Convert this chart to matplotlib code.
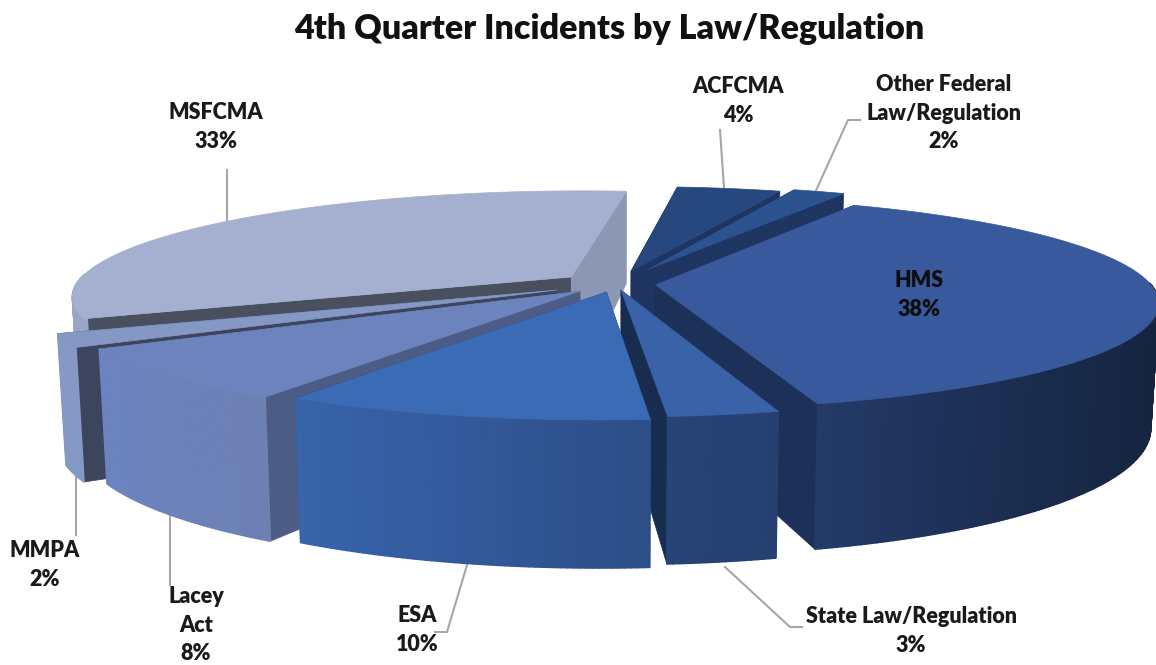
import numpy as np
import matplotlib
matplotlib.use("Agg")
import matplotlib.pyplot as plt
from matplotlib.collections import PolyCollection
from matplotlib.colors import to_rgb
from matplotlib.patches import Polygon

plt.rcParams['font.family'] = ['Lato', 'DejaVu Sans']

# data, clockwise from the top
names = ["ACFCMA", "Other Federal\nLaw/Regulation", "HMS", "State Law/Regulation",
         "ESA", "Lacey\nAct", "MMPA", "MSFCMA"]
shares = [4, 2, 38, 3, 10, 8, 2, 33]

# styles per slice
explode = [0.13, 0.16, 0.08, 0.06, 0.08, 0.10, 0.13, 0.115]
top_cols = ["#27477f", "#2c5290", "#38599c", "#3a62a8", "#3c6bb5", "#6c83bd", "#8497c5", "#a5b0d0"]
wall_l = ["#27477f", "#2c5290", "#233b68", "#274476", "#3864ab", "#6b83bf", "#8598c6", "#9aa6c6"]
wall_r = ["#27477f", "#2c5290", "#15243f", "#254070", "#2d4e87", "#6c80b4", "#8598c6", "#9aa6c6"]
cut_start = ["#1f3561", "#1f3561", "#16274a", "#1c3158", "#1c3158", "#4c5c85", "#3d455c", "#484f5e"]
cut_end = ["#1f3561", "#1f3561", "#1c3158", "#182c4f", "#1c3158", "#4c5c85", "#3d455c", "#8d97b3"]
draw_order = [0, 1, 7, 2, 6, 5, 3, 4]

# label placement: text x, y, then leader line points
label_pos = [(738, 101), (944, 113), (919, 295), (911, 631), (417, 630), (196, 625), (45, 565), (216, 127)]
leaders = [[(720, 130), (724, 188)],
           [(860, 120), (848, 120), (814, 195)],
           None,
           [(725, 567), (790, 627), (802, 627)],
           [(467, 565), (447, 632), (435, 632)],
           [(170, 508), (170, 585)],
           [(76, 465), (76, 535)],
           [(227, 170), (227, 222)]]

START = 6.0
CX, CY = 616, 284
R, K, PERSP = 495, 103, 0.17
SKEW = 5


def project(px, py):
    s = 1 / (1 + PERSP * py)
    return CX + R * px * s + SKEW * py, CY - K * py * s


def drop(px, py):
    # point on the bottom face under a point of the top face
    x, y = project(px, py)
    return CX + (x - CX) * 0.985, y + 120 - 26 * py


def mix(c1, c2, t):
    return tuple((1 - t) * np.array(to_rgb(c1)) + t * np.array(to_rgb(c2)))


fig = plt.figure(figsize=(11.56, 6.65), dpi=100)
ax = fig.add_axes([0, 0, 1, 1])
ax.set_xlim(0, 1156)
ax.set_ylim(665, 0)
ax.axis("off")

edges = START + np.concatenate([[0], np.cumsum(shares)]) * 3.6

for pts in leaders:
    if pts:
        ax.plot(*zip(*pts), color="#a6a6a6", lw=1.5, zorder=1)

z = 2
for i in draw_order:
    a0, a1 = np.radians(edges[i]), np.radians(edges[i + 1])
    mid = (a0 + a1) / 2
    ox, oy = explode[i] * np.sin(mid), explode[i] * np.cos(mid)
    th = np.linspace(a0, a1, max(6, int(shares[i] * 6)))
    wx, wy = ox + np.sin(th), oy + np.cos(th)

    # cut faces
    for a, col in ((a0, cut_start[i]), (a1, cut_end[i])):
        qx, qy = ox + np.sin(a), oy + np.cos(a)
        quad = [project(ox, oy), project(qx, qy), drop(qx, qy), drop(ox, oy)]
        ax.add_patch(Polygon(quad, fc=col, ec=col, lw=0.5, zorder=z))
        z += 1

    # outer wall, front part only
    tops = np.array([project(a, b) for a, b in zip(wx, wy)])
    bots = np.array([drop(a, b) for a, b in zip(wx, wy)])
    xmin, xmax = tops[:, 0].min(), tops[:, 0].max()
    polys, cols = [], []
    for j in range(len(th) - 1):
        if np.cos((th[j] + th[j + 1]) / 2) > 0.02:
            continue
        polys.append([tops[j], tops[j + 1], bots[j + 1], bots[j]])
        t = (tops[j, 0] - xmin) / max(xmax - xmin, 1)
        cols.append(mix(wall_l[i], wall_r[i], t))
    if polys:
        ax.add_collection(PolyCollection(polys, facecolors=cols, edgecolors=cols, linewidths=1.2, zorder=z))
        z += 1

    # top face
    outline = [project(ox, oy)] + [tuple(p) for p in tops]
    ax.add_patch(Polygon(outline, fc=top_cols[i], ec=top_cols[i], lw=0.5, zorder=z))
    z += 1

for name, share, (x, y) in zip(names, shares, label_pos):
    ax.text(x, y, f"{name}\n{share}%", ha="center", va="center", fontsize=15.5,
            fontweight="heavy", color="#1a1a1a" if name != "HMS" else "#0d0d0d",
            linespacing=1.42, zorder=z)

ax.text(609, 29, "4th Quarter Incidents by Law/Regulation", ha="center", va="center",
        fontsize=24.5, fontweight="heavy", color="#111111", zorder=z)

fig.savefig("out.png", dpi=100)
